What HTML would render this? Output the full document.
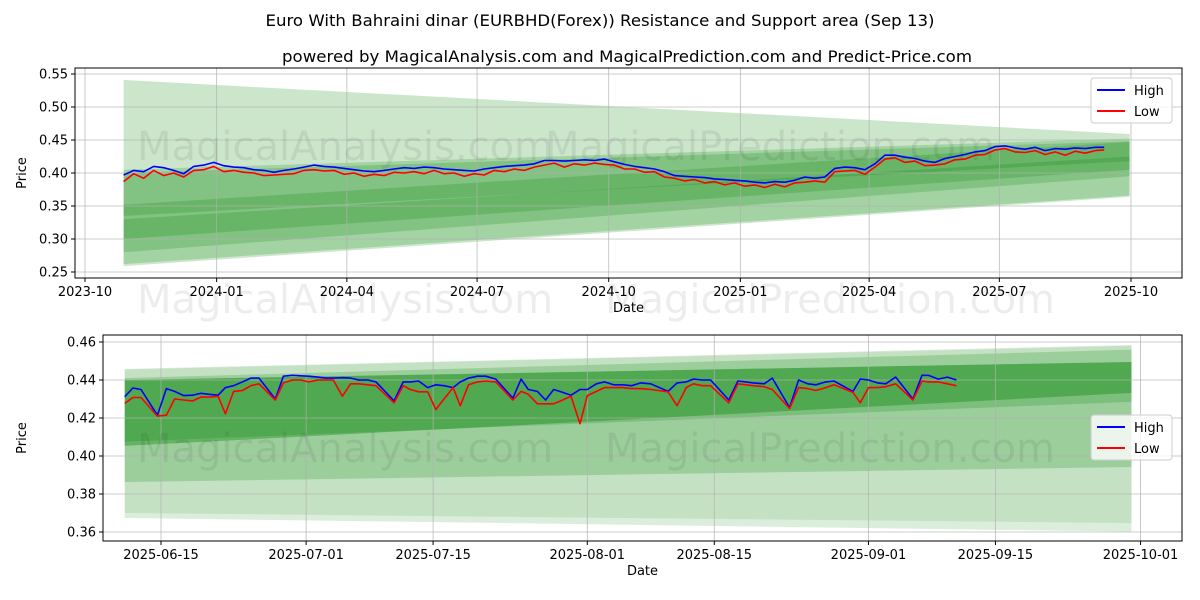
<!DOCTYPE html>
<html><head><meta charset="utf-8"><style>
html,body{margin:0;padding:0;background:#fff;}
svg{display:block;font-family:"DejaVu Sans","Liberation Sans",sans-serif;}
</style></head><body>
<svg id="chart" width="1200" height="600" viewBox="0 0 1200 600" xmlns="http://www.w3.org/2000/svg">
<rect width="1200" height="600" fill="#fff"/>
<text x="600" y="26" text-anchor="middle" font-size="16" textLength="669" lengthAdjust="spacingAndGlyphs">Euro With Bahraini dinar (EURBHD(Forex)) Resistance and Support area (Sep 13)</text>
<text x="627" y="62" text-anchor="middle" font-size="16" textLength="690" lengthAdjust="spacingAndGlyphs">powered by MagicalAnalysis.com and MagicalPrediction.com and Predict-Price.com</text>
<g id="top"></g>
<g id="bot"></g>
</svg>
<script>
// ---------- top chart data ----------
const topStart = "2023-10-28";
const topWeeks = [0,1,2,3,4,5,6,7,8,9,10,11,12,13,14,15,16,17,18,19,20,21,22,23,24,25,26,27,28,29,30,31,32,33,34,35,36,37,38,39,40,41,42,43,44,45,46,47,48,49,50,51,52,53,54,55,56,57,58,59,60,61,62,63,64,65,66,67,68,69,70,71,72,73,74,75,76,77,78,79,80,81,82,83,84,85,86,87,88,89,90,91,92,93,94,95,96,97,97.9];
const topHigh = [.397,.404,.402,.410,.408,.404,.399,.410,.412,.416,.411,.409,.408,.405,.404,.401,.404,.406,.409,.412,.410,.409,.407,.405,.403,.402,.404,.406,.408,.407,.409,.408,.406,.405,.404,.403,.406,.408,.410,.411,.412,.414,.419,.419,.418,.419,.420,.419,.421,.417,.413,.410,.408,.406,.402,.396,.395,.394,.393,.391,.390,.389,.388,.386,.385,.387,.386,.389,.394,.392,.394,.407,.409,.408,.405,.414,.427,.427,.424,.422,.418,.416,.422,.425,.428,.432,.434,.440,.441,.438,.436,.439,.434,.437,.436,.438,.437,.439,.439];
const topLow = [.387,.399,.392,.404,.396,.400,.394,.404,.405,.410,.402,.404,.401,.400,.396,.397,.398,.399,.404,.405,.403,.404,.398,.400,.395,.398,.396,.401,.400,.402,.399,.404,.399,.400,.395,.399,.397,.404,.402,.406,.404,.409,.412,.415,.409,.414,.412,.415,.413,.412,.406,.406,.401,.402,.394,.392,.388,.390,.385,.387,.382,.385,.380,.382,.378,.383,.379,.385,.386,.388,.386,.402,.403,.404,.398,.409,.421,.423,.416,.418,.411,.412,.414,.420,.421,.427,.428,.435,.437,.432,.431,.434,.428,.432,.427,.433,.430,.434,.435];
// band: [upperStart, upperEnd, lowerStart, lowerEnd]
const topBandA = [.541,.459,.259,.364];
const topBandB = [.405,.452,.262,.366];
const topBandC = [.400,.448,.280,.395];
const topBandD = [.352,.447,.335,.418];
const topBandE = [.330,.425,.300,.405];
const topYTicks = [0.25,0.30,0.35,0.40,0.45,0.50,0.55];
const topXTicks = ["2023-10-01","2024-01-01","2024-04-01","2024-07-01","2024-10-01","2025-01-01","2025-04-01","2025-07-01","2025-10-01"];
const topXLabels = ["2023-10","2024-01","2024-04","2024-07","2024-10","2025-01","2025-04","2025-07","2025-10"];
const topBandStartEnd = ["2023-10-28","2025-09-30"];

// ---------- bottom chart data ----------
const botStart = "2025-06-11";
const botDays = [0,0.9,1.8,3.6,4.6,5.5,6.5,7.5,8.4,9.3,10.3,11.1,12.0,13.0,13.9,14.8,16.6,17.5,18.5,19.4,20.3,21.3,22.2,23.0,24.0,24.9,25.8,26.8,27.7,29.7,30.7,31.5,32.4,33.4,34.3,35.2,36.2,37.0,37.9,38.9,39.8,40.9,42.8,43.7,44.5,45.5,46.4,47.3,48.3,49.2,50.2,51.0,52.0,52.9,53.9,54.9,55.9,56.9,58.0,59.9,60.9,61.9,62.7,63.7,64.6,66.6,67.6,68.5,69.3,70.5,71.4,73.3,74.3,75.3,76.2,77.3,78.2,80.3,81.1,82.0,83.0,83.9,85.0,86.9,87.9,88.6,89.7,90.7,91.7];
const botHigh = [.4312,.4358,.435,.4215,.4355,.434,.4318,.432,.433,.4325,.432,.436,.437,.439,.441,.441,.430,.442,.4425,.4422,.442,.4415,.441,.441,.4412,.441,.440,.440,.439,.429,.439,.439,.4395,.436,.4375,.437,.436,.439,.441,.442,.442,.4405,.4305,.4405,.435,.434,.4295,.435,.4335,.432,.435,.435,.438,.439,.4375,.4375,.437,.4385,.438,.434,.4385,.439,.4405,.440,.440,.4295,.4395,.439,.4385,.438,.441,.4255,.440,.438,.4375,.439,.4395,.434,.4405,.440,.4385,.438,.4415,.430,.4425,.4425,.4405,.4415,.440];
const botLow = [.4277,.4308,.4308,.421,.4215,.430,.4295,.429,.431,.431,.4315,.4222,.434,.4345,.437,.438,.4295,.4385,.440,.440,.439,.440,.440,.440,.4315,.438,.438,.4375,.437,.428,.437,.435,.4338,.4338,.4245,.430,.436,.4265,.4375,.439,.4395,.439,.4295,.434,.4325,.4275,.4275,.4275,.4295,.4315,.417,.4318,.434,.436,.436,.436,.4355,.4355,.435,.4338,.4265,.436,.438,.437,.437,.428,.438,.4375,.437,.4365,.435,.425,.436,.4355,.4345,.436,.4375,.4335,.428,.436,.436,.4365,.438,.4295,.4395,.439,.439,.438,.437];
const botBandA = [.4458,.4584,.3674,.3602];
const botBandB = [.4455,.4580,.3700,.3647];
const botBandC = [.4410,.4560,.3863,.3942];
const botBandD = [.4400,.4495,.4053,.4332];
const botBandE = [.4400,.4495,.4075,.4285];
const botYTicks = [0.36,0.38,0.40,0.42,0.44,0.46];
const botXTicks = ["2025-06-15","2025-07-01","2025-07-15","2025-08-01","2025-08-15","2025-09-01","2025-09-15","2025-10-01"];
const botBandStartEnd = ["2025-06-11","2025-09-30"];

const NS="http://www.w3.org/2000/svg";
const DAY=86400000;
function dt(s){return Date.parse(s+"T00:00:00Z");}
function mk(parent,tag,attrs){const e=document.createElementNS(NS,tag);for(const k in attrs)e.setAttribute(k,attrs[k]);parent.appendChild(e);return e;}

function drawPanel(g,cfg){
  const {L,R,T,B,xmin,xmax,ymin,ymax}=cfg;
  const X=t=>L+(t-xmin)/(xmax-xmin)*(R-L);
  const Y=v=>B-(v-ymin)/(ymax-ymin)*(B-T);
  const bx0=X(dt(cfg.bandSE[0])), bx1=X(dt(cfg.bandSE[1]));
  cfg.bands.forEach((b,i)=>{
    const p=mk(g,"polygon",{points:`${bx0},${Y(b[0])} ${bx1},${Y(b[1])} ${bx1},${Y(b[3])} ${bx0},${Y(b[2])}`,fill:"#008000","fill-opacity":cfg.alphas[i]});
    
    
  });
  cfg.yTicks.forEach(v=>{
    const l=mk(g,"line",{x1:L,x2:R,y1:Y(v),y2:Y(v),stroke:"#b0b0b0","stroke-width":0.8,"stroke-opacity":0.85});
    
    
  });
  cfg.xTicks.forEach(s=>{
    const l=mk(g,"line",{x1:X(dt(s)),x2:X(dt(s)),y1:T,y2:B,stroke:"#b0b0b0","stroke-width":0.8,"stroke-opacity":0.85});
    
    
  });
  cfg.marks.forEach(m=>{
    const t=mk(g,"text",{x:m[0],y:m[1],"font-size":40,fill:"#000","fill-opacity":0.07,"text-anchor":"middle"});
    t.textContent=m[2];
    
    
  });
  const s0=dt(cfg.start);
  [[cfg.high,"#0000ff","high-line"],[cfg.low,"#ff0000","low-line"]].forEach(([arr,col,nm])=>{
    const pts=arr.map((v,i)=>`${X(s0+cfg.days[i]*cfg.unit*DAY).toFixed(1)},${Y(v).toFixed(1)}`).join(" ");
    const pl=mk(g,"polyline",{points:pts,fill:"none",stroke:col,"stroke-width":1.6,"stroke-linejoin":"round"});
    
    
  });
  const fr=mk(g,"rect",{x:L,y:T,width:R-L,height:B-T,fill:"none",stroke:"#000","stroke-width":1});
  
  
  cfg.yTicks.forEach(v=>{
    mk(g,"line",{x1:L-4,x2:L,y1:Y(v),y2:Y(v),stroke:"#000"});
    const t=mk(g,"text",{x:L-7,y:Y(v)+4.5,"font-size":13,"text-anchor":"end"});
    t.textContent=v.toFixed(2);
    
    
  });
  cfg.xTicks.forEach((s,i)=>{
    mk(g,"line",{x1:X(dt(s)),x2:X(dt(s)),y1:B,y2:B+4,stroke:"#000"});
    const t=mk(g,"text",{x:X(dt(s)),y:B+18,"font-size":13,"text-anchor":"middle"});
    t.textContent=cfg.xLabels[i];
    
    
  });
  const xl=mk(g,"text",{x:(L+R)/2,y:B+34,"font-size":13,"text-anchor":"middle"});
  xl.textContent="Date";
  
  
  const yl=mk(g,"text",{x:0,y:0,"font-size":13,"text-anchor":"middle",transform:`translate(${cfg.ylx},${(T+B)/2}) rotate(-90)`});
  yl.textContent="Price";
  
  
  const lg=mk(g,"g",{});
  
  
  const [lx,ly]=cfg.legend;
  mk(lg,"rect",{x:lx,y:ly,width:81,height:45,rx:3,fill:"#fff","fill-opacity":0.8,stroke:"#ccc"});
  [["High","#0000ff"],["Low","#ff0000"]].forEach(([n,c],i)=>{
    const e=mk(lg,"g",{});
    
    
    mk(e,"line",{x1:lx+6,x2:lx+34,y1:ly+12+i*21,y2:ly+12+i*21,stroke:c,"stroke-width":2});
    const t=mk(e,"text",{x:lx+43,y:ly+17+i*21,"font-size":13});
    t.textContent=n;
  });
}

drawPanel(document.getElementById("top"),{
  L:75,R:1182,T:68,B:278,
  xmin:dt("2023-10-01")-(85-75)/1.431*DAY, xmax:dt("2025-10-01")+(1182-1131)/1.431*DAY,
  ymin:0.55-(278-74)/660,ymax:0.55+(74-68)/660,
  bands:[topBandA,topBandB,topBandC,topBandD,topBandE],alphas:[0.2,0.2,0.2,0.2,0.2],bandSE:topBandStartEnd,
  yTicks:topYTicks,xTicks:topXTicks,xLabels:topXLabels,
  start:topStart,days:topWeeks,unit:7,high:topHigh,low:topLow,
  marks:[[345,160,"MagicalAnalysis.com"],[770,160,"MagicalPrediction.com"],[345,313,"MagicalAnalysis.com"],[830,313,"MagicalPrediction.com"]],
  ylx:26,legend:[1091,78]
});
drawPanel(document.getElementById("bot"),{
  L:103,R:1182,T:335,B:541,xmin:dt("2025-06-15")-(161-103)/9.07*DAY,xmax:dt("2025-06-15")+(1182-161)/9.07*DAY,
  ymin:0.46-(541-342)/1900,ymax:0.46+(342-335)/1900,
  bands:[botBandA,botBandB,botBandC,botBandD,botBandE],alphas:[0.14,0.1,0.2,0.35,0.2],bandSE:botBandStartEnd,
  yTicks:botYTicks,xTicks:botXTicks,xLabels:botXTicks,
  start:botStart,days:botDays,unit:1,high:botHigh,low:botLow,
  marks:[[345,462,"MagicalAnalysis.com"],[830,462,"MagicalPrediction.com"]],
  ylx:26,legend:[1091,415]
});
</script>
</body></html>
